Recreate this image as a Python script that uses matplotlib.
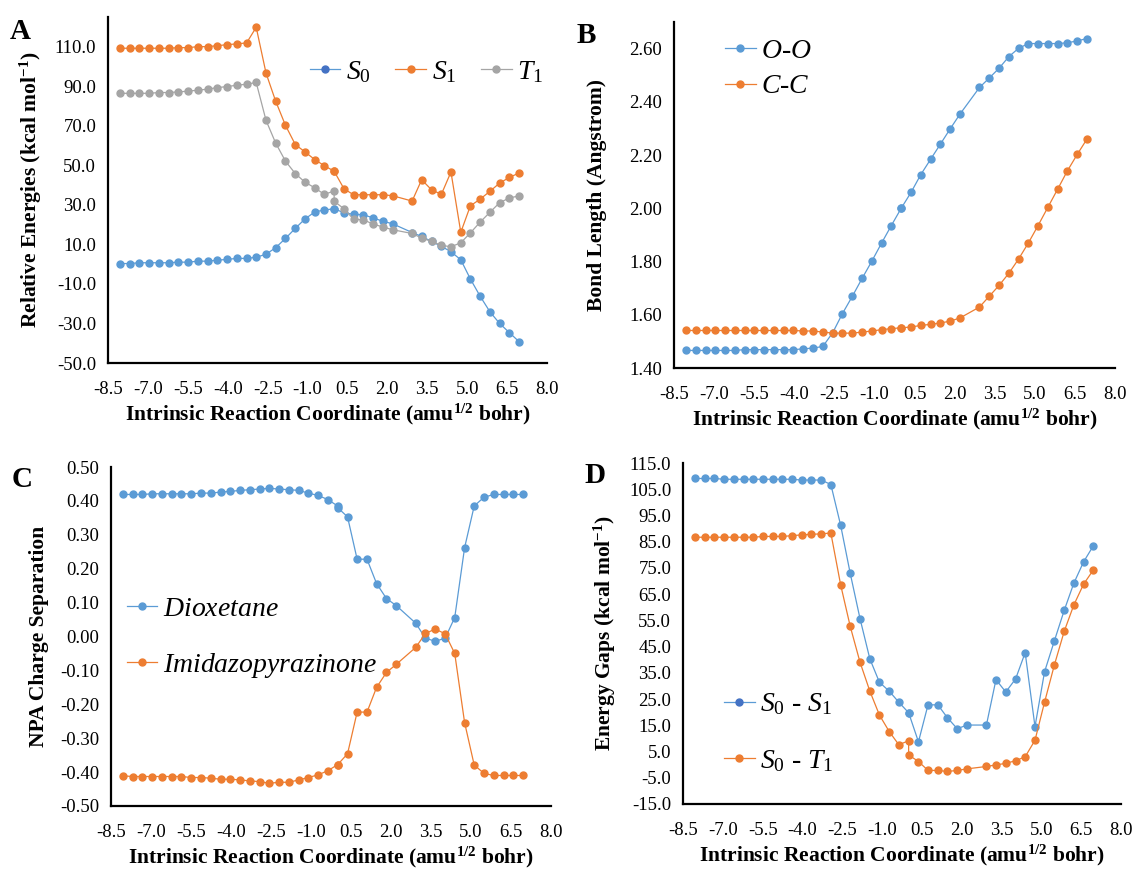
import numpy as np
import matplotlib
matplotlib.use('Agg')
import matplotlib.pyplot as plt
from matplotlib.lines import Line2D
from matplotlib.ticker import FormatStrFormatter

plt.rcParams['font.family'] = 'Liberation Serif'
plt.rcParams['mathtext.fontset'] = 'custom'
plt.rcParams['mathtext.rm'] = 'Liberation Serif'
plt.rcParams['mathtext.it'] = 'Liberation Serif:italic'
plt.rcParams['mathtext.bf'] = 'Liberation Serif:bold'
plt.rcParams['axes.unicode_minus'] = False

BLUE = '#5B9BD5'
DARK_BLUE = '#4472C4'
ORANGE = '#ED7D31'
GREY = '#A5A5A5'

# IRC points (amu^1/2 bohr); the TS point at 0.0 shows up twice
irc = [-8.05, -7.69, -7.32, -6.95, -6.59, -6.22, -5.86, -5.49, -5.12, -4.76,
       -4.39, -4.03, -3.66, -3.29, -2.93, -2.56, -2.20, -1.83, -1.46, -1.10,
       -0.73, -0.37, 0.00, 0.00, 0.37, 0.73, 1.10, 1.46, 1.83, 2.20,
       2.93, 3.29, 3.66, 4.03, 4.39, 4.76, 5.12, 5.49, 5.86, 6.22, 6.59, 6.95]

# A - relative energies
e_s0 = [0.3, 0.3, 0.7, 0.7, 0.7, 0.7, 1.0, 1.0, 1.5, 1.5, 2.0, 2.4, 2.9, 2.9,
        3.5, 5.0, 8.3, 13.0, 18.1, 22.8, 26.4, 27.4, 28.0, 28.0,
        26.0, 25.2, 25.0, 23.4, 21.7, 20.4,
        16.0, 14.0, 11.5, 9.0, 6.3, 2.2, -7.5, -16.3, -24.2, -30.0, -34.7, -39.2]
e_s1 = [109.2, 109.2, 109.2, 109.2, 109.2, 109.2, 109.5, 109.5, 110.0, 110.0, 110.5, 111.0, 111.4, 111.9,
        119.8, 96.6, 82.5, 70.2, 60.5, 56.8, 52.9, 49.8, 47.0, 47.0,
        38.1, 35.1, 35.1, 35.1, 35.1, 34.6,
        31.9, 42.7, 37.6, 35.3, 46.6, 16.1, 29.5, 32.9, 36.9, 41.0, 43.9, 46.1]
e_t1 = [86.4, 86.4, 86.4, 86.4, 86.8, 86.8, 87.1, 87.5, 88.0, 88.5, 89.3, 89.8, 90.5, 91.0,
        91.9, 72.7, 61.3, 52.1, 45.8, 41.5, 38.6, 35.3, 37.0, 31.8,
        28.0, 22.7, 22.4, 20.3, 18.8, 17.4,
        15.5, 13.2, 11.5, 9.5, 8.8, 10.8, 15.8, 21.3, 26.3, 31.1, 33.5, 34.5]

# B - bond lengths
d_oo = [1.466, 1.466, 1.466, 1.466, 1.466, 1.466, 1.469, 1.469, 1.469, 1.469, 1.469, 1.469, 1.472, 1.475,
        1.481, 1.533, 1.604, 1.669, 1.737, 1.801, 1.870, 1.935, 2.000, 2.000,
        2.060, 2.126, 2.184, 2.240, 2.298, 2.354,
        2.454, 2.489, 2.526, 2.570, 2.601, 2.619, 2.619, 2.619, 2.619, 2.622, 2.629, 2.638]
d_cc = [1.541, 1.541, 1.541, 1.541, 1.541, 1.541, 1.541, 1.541, 1.541, 1.541, 1.541, 1.541, 1.539, 1.539,
        1.535, 1.531, 1.531, 1.531, 1.535, 1.539, 1.544, 1.548, 1.551, 1.551,
        1.554, 1.560, 1.564, 1.569, 1.576, 1.588,
        1.629, 1.669, 1.710, 1.756, 1.809, 1.870, 1.935, 2.004, 2.073, 2.141, 2.203, 2.260]

# C - NPA charge separation
q_diox = [0.419, 0.419, 0.419, 0.421, 0.421, 0.421, 0.421, 0.421, 0.423, 0.423, 0.426, 0.428, 0.431, 0.433,
          0.435, 0.437, 0.435, 0.433, 0.431, 0.423, 0.416, 0.404, 0.385, 0.380,
          0.353, 0.228, 0.228, 0.156, 0.112, 0.091,
          0.039, -0.005, -0.014, -0.005, 0.056, 0.262, 0.385, 0.411, 0.419, 0.419, 0.419, 0.419]
q_imid = [-0.411, -0.413, -0.413, -0.413, -0.413, -0.413, -0.413, -0.416, -0.416, -0.418, -0.421, -0.421, -0.423, -0.426,
          -0.428, -0.433, -0.430, -0.430, -0.423, -0.416, -0.408, -0.396, -0.378, -0.378,
          -0.346, -0.223, -0.223, -0.150, -0.106, -0.082,
          -0.032, 0.009, 0.022, 0.008, -0.050, -0.254, -0.379, -0.404, -0.410, -0.410, -0.410, -0.410]

# D - energy gaps
g_s0s1 = [109.1, 109.1, 109.1, 108.8, 108.8, 108.8, 108.8, 108.8, 108.8, 108.8, 108.8, 108.5, 108.5, 108.5,
          106.8, 91.2, 72.9, 55.6, 40.3, 31.4, 28.0, 23.8, 19.8, 19.8,
          8.7, 22.8, 22.8, 17.9, 13.7, 15.1,
          15.1, 32.4, 27.7, 32.7, 42.7, 14.5, 35.4, 47.2, 58.8, 69.1, 77.3, 83.3]
g_s0t1 = [86.7, 86.7, 86.7, 86.7, 86.7, 86.7, 86.7, 87.0, 87.0, 87.0, 87.3, 87.6, 87.8, 88.0,
          88.3, 68.5, 52.7, 39.0, 28.0, 18.9, 12.6, 7.6, 9.1, 3.7,
          1.2, -2.2, -2.2, -2.6, -2.2, -1.6,
          -0.7, -0.1, 0.5, 1.5, 3.0, 9.3, 23.8, 38.0, 50.8, 60.8, 68.8, 74.1]

XLABEL = r'Intrinsic Reaction Coordinate (amu$^{\mathbf{1/2}}$ bohr)'
LEG_FS = 20


def setup(ax, ylim, ytop_tick, ystep, yfmt, ylabel, ypad=8):
    ax.set_xlim(-8.5, 8.0)
    ax.set_xticks(np.arange(-8.5, 8.01, 1.5))
    ax.xaxis.set_major_formatter(FormatStrFormatter('%.1f'))
    ax.set_ylim(*ylim)
    # +0.0 gets rid of "-0.00"
    ax.set_yticks(np.round(np.arange(ylim[0], ytop_tick + ystep / 100, ystep), 6) + 0.0)
    ax.yaxis.set_major_formatter(FormatStrFormatter(yfmt))
    for s in ['top', 'right']:
        ax.spines[s].set_visible(False)
    for s in ['left', 'bottom']:
        ax.spines[s].set_linewidth(1.6)
        ax.spines[s].set_color('black')
    ax.tick_params(length=0, labelsize=13.5)
    ax.tick_params(axis='y', pad=8.5)
    ax.tick_params(axis='x', pad=13)
    ax.set_xlabel(XLABEL, fontsize=15.5, fontweight='bold', labelpad=3)
    ax.set_ylabel(ylabel, fontsize=15.5, fontweight='bold', labelpad=ypad)


def series(ax, y, color):
    ax.plot(irc, y, '-o', color=color, lw=0.9, ms=5, mfc=color, mec=color, clip_on=False)


def handle(color, mcolor=None):
    mcolor = mcolor or color
    return Line2D([], [], color=color, lw=0.9, marker='o', ms=5, mfc=mcolor, mec=mcolor)


def legend(ax, handles, labels, anchor, **kw):
    ax.legend(handles, labels, frameon=False, fontsize=LEG_FS, loc='center left',
              bbox_to_anchor=anchor, borderpad=0, borderaxespad=0,
              handlelength=1.1, handletextpad=0.2, **kw)


W, H = 1133, 877


def add_axes(left, right, top, bottom):
    return fig.add_axes([left / W, 1 - bottom / H, (right - left) / W, (bottom - top) / H])


fig = plt.figure(figsize=(W / 100, H / 100), dpi=100)

# A
axA = add_axes(108, 547, 17, 363)
series(axA, e_s0, BLUE)
series(axA, e_s1, ORANGE)
series(axA, e_t1, GREY)
setup(axA, (-50, 125), 110, 20, '%.1f', r'Relative Energies (kcal mol$^{\mathbf{-1}}$)')
legend(axA, [handle(BLUE, DARK_BLUE), handle(ORANGE), handle(GREY)],
       [r'$S_0$', r'$S_1$', r'$T_1$'], (0.459, 0.841), ncol=3, columnspacing=0.9)

# B
axB = add_axes(674, 1115, 22, 368)
series(axB, d_oo, BLUE)
series(axB, d_cc, ORANGE)
setup(axB, (1.4, 2.7), 2.6, 0.2, '%.2f', 'Bond Length (Angstrom)', ypad=16)
legend(axB, [handle(BLUE), handle(ORANGE)], [r'$O$-$O$', r'$C$-$C$'], (0.116, 0.864),
       labelspacing=0.35)

# C
axC = add_axes(111, 551, 467, 806)
series(axC, q_diox, BLUE)
series(axC, q_imid, ORANGE)
setup(axC, (-0.5, 0.5), 0.5, 0.1, '%.2f', 'NPA Charge Separation')
legend(axC, [handle(BLUE), handle(ORANGE)], [r'$Dioxetane$', r'$Imidazopyrazinone$'],
       (0.036, 0.495), labelspacing=1.05)

# D
axD = add_axes(683, 1121, 463, 804)
series(axD, g_s0s1, BLUE)
series(axD, g_s0t1, ORANGE)
setup(axD, (-15, 115), 115, 10, '%.1f', r'Energy Gaps (kcal mol$^{\mathbf{-1}}$)')
legend(axD, [handle(BLUE, DARK_BLUE), handle(ORANGE)], [r'$S_0$ - $S_1$', r'$S_0$ - $T_1$'],
       (0.094, 0.209), labelspacing=1.1)

for lbl, (px, py) in zip('ABCD', [(10, 18), (577, 22), (12, 466), (584, 462)]):
    fig.text(px / W, 1 - py / H, lbl, fontsize=21, fontweight='bold', va='top', ha='left')

fig.savefig('out.png', dpi=100)
